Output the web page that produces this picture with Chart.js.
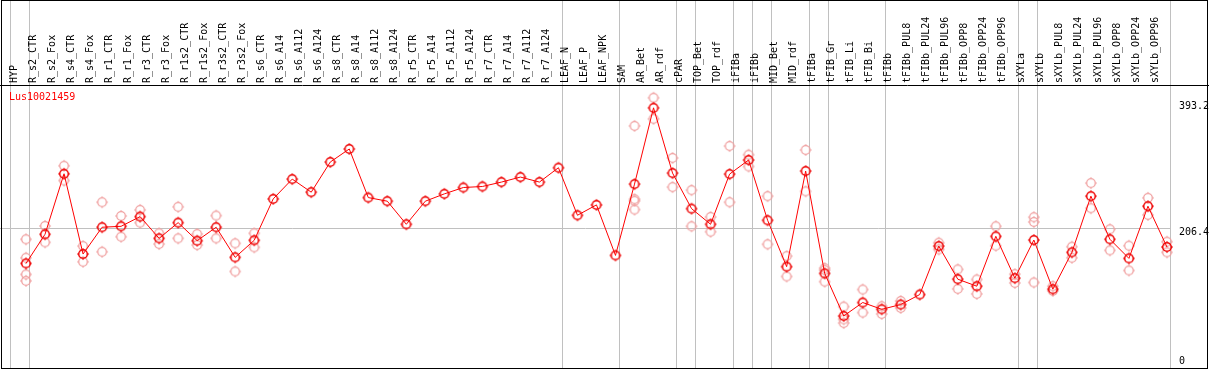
<!DOCTYPE html>
<html>
<head>
<meta charset="utf-8">
<script src="https://cdn.jsdelivr.net/npm/chart.js@4"></script>
<style>
  body { margin: 0; background: #fff; }
  #box { position: relative; width: 1209px; height: 370px; }
  #chart { position: absolute; left: 0; top: 0; }
  #frame { position: absolute; left: 1px; top: 0; width: 1207px; height: 369px; border: 1px solid #000; box-sizing: border-box; pointer-events: none; }
  #gene { position: absolute; left: 9px; top: 91px; font: 10px "DejaVu Sans Mono", monospace; line-height: 12px; color: #f00; }
</style>
</head>
<body>
<div id="box">
  <canvas id="chart" width="1209" height="370"></canvas>
  <div id="frame"></div>
  <div id="gene"></div>
</div>
<script>
const geneId = 'Lus10021459';

const categories = ['HYP', 'R_s2_CTR', 'R_s2_Fox', 'R_s4_CTR', 'R_s4_Fox', 'R_r1_CTR', 'R_r1_Fox',
  'R_r3_CTR', 'R_r3_Fox', 'R_r1s2_CTR', 'R_r1s2_Fox', 'R_r3s2_CTR', 'R_r3s2_Fox',
  'R_s6_CTR', 'R_s6_A14', 'R_s6_A112', 'R_s6_A124', 'R_s8_CTR', 'R_s8_A14', 'R_s8_A112', 'R_s8_A124',
  'R_r5_CTR', 'R_r5_A14', 'R_r5_A112', 'R_r5_A124', 'R_r7_CTR', 'R_r7_A14', 'R_r7_A112', 'R_r7_A124',
  'LEAF_N', 'LEAF_P', 'LEAF_NPK', 'SAM', 'AR_Bet', 'AR_rdf', 'cPAR', 'TOP_Bet', 'TOP_rdf',
  'iFIBa', 'iFIBb', 'MID_Bet', 'MID_rdf', 'tFIBa', 'tFIB_Gr', 'tFIB_Li', 'tFIB_Bi', 'tFIBb',
  'tFIBb_PUL8', 'tFIBb_PUL24', 'tFIBb_PUL96', 'tFIBb_OPP8', 'tFIBb_OPP24', 'tFIBb_OPP96',
  'sXYLa', 'sXYLb', 'sXYLb_PUL8', 'sXYLb_PUL24', 'sXYLb_PUL96', 'sXYLb_OPP8', 'sXYLb_OPP24', 'sXYLb_OPP96'];

// mean expression per sample
const meanValues = [154.5, 197.5, 286.9, 168.3, 207.9, 209.3, 223.6, 191.5, 214.7, 188.0, 207.9, 163.4, 188.6,
  249.8, 279.0, 259.7, 304.2, 323.5, 251.7, 246.4, 212.3, 246.4, 257.2, 266.6, 268.1, 274.6, 282.0, 274.6, 295.8,
  225.6, 240.9, 166.3, 271.6, 384.3, 287.9, 235.4, 212.3, 286.4, 307.2, 218.2, 149.7, 290.9, 139.7, 76.8, 96.7,
  86.7, 93.7, 108.5, 180.1, 131.2, 120.8, 194.5, 132.7, 189.0, 116.4, 170.8, 253.8, 190.1, 161.9, 239.0, 178.7];

// single replicates per sample
const replicateValues = [
  [190.1, 162.8, 138.2, 128.7], [209.8, 185.6], [298.7, 276.9], [180.1, 156.9], [244.9, 171.7],
  [224.6, 193.9], [233.5, 214.7], [199.0, 183.1], [238.0, 191.5], [197.9, 181.6], [225.1, 191.5],
  [184.1, 142.6], [199.0, 178.2],
  [], [], [], [], [], [], [], [], [], [], [], [], [], [], [], [], [], [], [],
  [357.6, 249.4, 246.9, 234.0], [399.1, 368.0], [310.2, 267.2], [262.7, 209.3], [223.1, 201.3],
  [327.9, 244.9], [315.0, 297.7], [253.8, 182.7], [165.3, 135.2], [322.0, 260.9],
  [147.5, 144.6, 127.5], [90.7, 71.9, 66.4], [115.9, 81.8], [91.2, 79.8], [99.0, 88.7], [],
  [185.0, 175.2], [145.6, 116.8], [130.8, 109.4], [209.3, 180.6], [138.6, 125.7],
  [222.7, 215.7, 126.3], [120.8, 113.9], [179.1, 162.8], [273.1, 236.0], [204.9, 173.8],
  [180.6, 144.1], [251.3, 226.1], [186.5, 170.8]];

// last sample index of each group (vertical separators)
const groupEnds = [-1, 0, 28, 31, 34, 35, 37, 38, 39, 41, 42, 45, 52, 53, 60];
const yTickValues = [0, 206.4, 393.2];

document.getElementById('gene').textContent = geneId;

// small ring with four tick marks, used as point style
function makeMarker(color, lw) {
  const c = document.createElement('canvas');
  c.width = c.height = 14;
  const g = c.getContext('2d');
  g.strokeStyle = color;
  g.fillStyle = color;
  g.lineWidth = lw;
  g.beginPath();
  g.arc(7, 7, 4.3, 0, Math.PI * 2);
  g.stroke();
  g.fillRect(6.5, 1, 1, 1.2);
  g.fillRect(6.5, 11.8, 1, 1.2);
  g.fillRect(1, 6.5, 1.2, 1);
  g.fillRect(11.8, 6.5, 1.2, 1);
  return c;
}

const meanPoints = meanValues.map((v, i) => ({ x: i, y: v }));
const repPoints = [];
replicateValues.forEach((arr, i) => arr.forEach(v => repPoints.push({ x: i, y: v })));

const sepOffset = 0.195;
const gray = '#c0c0c0';
const none = 'rgba(0,0,0,0)';

new Chart(document.getElementById('chart'), {
  type: 'scatter',
  data: {
    datasets: [{
      label: geneId,
      data: meanPoints,
      showLine: true,
      borderColor: '#ff0000',
      borderWidth: 1,
      pointStyle: makeMarker('#ee0000', 1.5),
      clip: false,
      order: 0
    }, {
      label: 'replicates',
      data: repPoints,
      pointStyle: makeMarker('#f0a0a0', 1.3),
      clip: false,
      order: 1
    }]
  },
  options: {
    responsive: false,
    animation: false,
    layout: { autoPadding: false, padding: { left: 0, right: 0, top: 0, bottom: 2 } },
    plugins: {
      legend: { display: false },
      tooltip: { enabled: false }
    },
    scales: {
      x: {
        type: 'linear',
        position: 'top',
        fullSize: true,
        bounds: 'data',
        min: -26 / 19.016,
        max: (1209 - 26) / 19.016,
        afterBuildTicks: (scale) => {
          const t = categories.map((c, i) => i);
          groupEnds.forEach(k => t.push(k + sepOffset));
          t.sort((a, b) => a - b);
          scale.ticks = t.map(v => ({ value: v }));
        },
        afterFit: (scale) => {
          scale.height = 85;
          scale.paddingLeft = scale.paddingRight = 0;
        },
        ticks: {
          autoSkip: false,
          minRotation: 90,
          maxRotation: 90,
          padding: -83,
          color: '#000',
          font: { family: 'DejaVu Sans Mono', size: 10 },
          callback: (value) => Number.isInteger(value) ? categories[value] : ''
        },
        grid: {
          drawTicks: true,
          tickLength: 85,
          lineWidth: 1,
          color: (ctx) => ctx.tick && !Number.isInteger(ctx.tick.value) ? gray : none,
          tickColor: (ctx) => ctx.tick && !Number.isInteger(ctx.tick.value) ? gray : none
        },
        border: { display: true, color: '#000', width: 1 }
      },
      y: {
        position: 'right',
        min: 0,
        max: 418,
        afterBuildTicks: (scale) => {
          scale.ticks = yTickValues.map(v => ({ value: v }));
        },
        afterFit: (scale) => {
          scale.width = 38;
          scale.paddingTop = scale.paddingBottom = 0;
        },
        ticks: {
          padding: 8,
          labelOffset: 4.5,
          color: '#000',
          font: { family: 'DejaVu Sans Mono', size: 10, lineHeight: 1.1 },
          callback: (value) => value === 0 ? ['0', '', ''] : String(value)
        },
        grid: {
          drawTicks: false,
          color: (ctx) => ctx.tick && ctx.tick.value === 206.4 ? gray : none
        },
        border: { display: false }
      }
    }
  }
});
</script>
</body>
</html>
